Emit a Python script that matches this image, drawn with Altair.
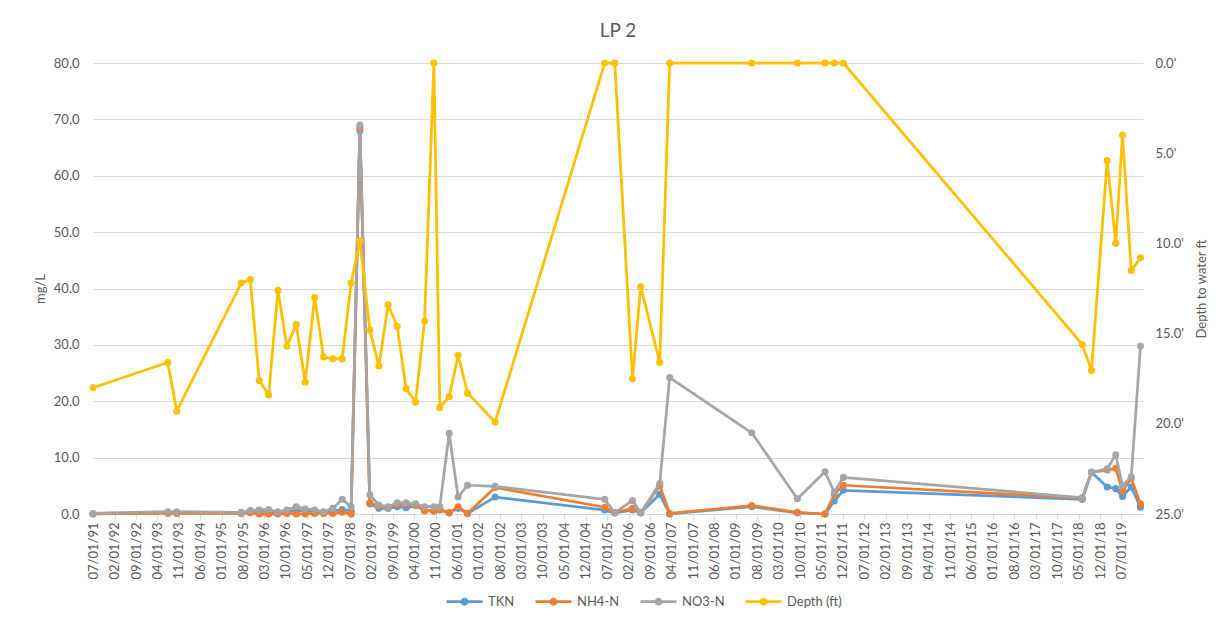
import altair as alt
import pandas as pd

# ---------------- data ----------------
dates = ["1991-07-01", "1993-07-13", "1993-10-11", "1995-07-14", "1995-10-12", "1996-01-09",
         "1996-04-12", "1996-07-13", "1996-10-10", "1997-01-11", "1997-04-10", "1997-07-13",
         "1997-10-10", "1998-01-11", "1998-04-13", "1998-07-11", "1998-10-06", "1999-01-13",
         "1999-04-13", "1999-07-14", "1999-10-12", "2000-01-09", "2000-04-12", "2000-07-10",
         "2000-10-11", "2000-12-09", "2001-03-12", "2001-06-09", "2001-09-11", "2002-06-12",
         "2005-06-06", "2005-09-14", "2006-03-09", "2006-05-30", "2006-12-05", "2007-03-14",
         "2009-06-07", "2010-09-04", "2011-06-06", "2011-09-06", "2011-12-05", "2018-06-07",
         "2018-09-07", "2019-02-10", "2019-05-06", "2019-07-12", "2019-10-07", "2020-01-07"]

tkn = [0.1, 0.3, 0.3, 0.2, 0.4, 0.4, 0.5, 0.3, 0.4, 0.6, 0.5, 0.4, 0.3, 0.5, 0.8, 0.5,
       68.0, 1.8, 1.0, 1.0, 1.3, 1.1, 1.5, 0.6, 0.6, 0.7, 0.2, 1.0, 0.1, 3.0,
       0.7, 0.2, 0.7, 0.2, 3.5, 0.0, 1.3, 0.2, 0.0, 2.3, 4.2,
       2.6, 7.4, 4.8, 4.5, 3.1, 4.8, 1.2]

nh4 = [0.0, 0.1, 0.1, 0.1, 0.2, 0.0, 0.0, 0.0, 0.1, 0.0, 0.0, 0.1, 0.1, 0.1, 0.3, 0.0,
       68.5, 2.0, 1.4, 1.2, 1.7, 1.7, 1.6, 0.6, 0.5, 0.8, 0.2, 1.3, 0.1, 4.7,
       1.2, 0.2, 1.0, 0.2, 5.0, 0.1, 1.5, 0.3, 0.0, 3.5, 5.1,
       2.8, 7.4, 7.8, 8.1, 4.1, 6.3, 1.8]

no3 = [0.1, 0.4, 0.4, 0.3, 0.6, 0.7, 0.8, 0.4, 0.7, 1.3, 0.9, 0.7, 0.4, 1.0, 2.6, 1.3,
       69.0, 3.4, 1.6, 1.3, 2.0, 2.0, 1.8, 1.3, 1.3, 1.3, 14.3, 3.0, 5.1, 4.9,
       2.6, 0.2, 2.4, 0.2, 5.4, 24.2, 14.4, 2.7, 7.5, 3.85, 6.5,
       2.9, 7.4, 8.0, 10.5, 5.0, 6.6, 29.8]

depth_ft = [18.0, 16.6, 19.3, 12.2, 12.0, 17.6, 18.4, 12.6, 15.7, 14.5, 17.7, 13.0,
            16.3, 16.4, 16.4, 12.2, 9.85, 14.8, 16.8, 13.4, 14.6, 18.05, 18.8, 14.3,
            0.0, 19.1, 18.5, 16.2, 18.3, 19.9, 0.0, 0.0, 17.5, 12.4, 16.6, 0.0,
            0.0, 0.0, 0.0, 0.0, 0.0, 15.6, 17.05, 5.4, 10.0, 4.0, 11.5, 10.8]

series_names = ["TKN", "NH4-N", "NO3-N", "Depth (ft)"]
series_colors = ["#5B9BD5", "#ED7D31", "#A5A5A5", "#FFC000"]

tick_dates = ["1991-07-01", "1992-02-01", "1992-09-01", "1993-04-01", "1993-11-01",
              "1994-06-01", "1995-01-01", "1995-08-01", "1996-03-01", "1996-10-01",
              "1997-05-01", "1997-12-01", "1998-07-01", "1999-02-01", "1999-09-01",
              "2000-04-01", "2000-11-01", "2001-06-01", "2002-01-01", "2002-08-01",
              "2003-03-01", "2003-10-01", "2004-05-01", "2004-12-01", "2005-07-01",
              "2006-02-01", "2006-09-01", "2007-04-01", "2007-11-01", "2008-06-01",
              "2009-01-01", "2009-08-01", "2010-03-01", "2010-10-01", "2011-05-01",
              "2011-12-01", "2012-07-01", "2013-02-01", "2013-09-01", "2014-04-01",
              "2014-11-01", "2015-06-01", "2016-01-01", "2016-08-01", "2017-03-01",
              "2017-10-01", "2018-05-01", "2018-12-01", "2019-07-01"]
x_domain = ["1991-07-01", "2020-02-01"]
left_ticks = [0, 10, 20, 30, 40, 50, 60, 70, 80]
right_ticks = [0, 5, 10, 15, 20, 25]

# ---------------- build tables ----------------
n = len(dates)
dt = pd.to_datetime(dates)
chem = pd.DataFrame({
    "date": list(dt) * 3,
    "series": ["TKN"] * n + ["NH4-N"] * n + ["NO3-N"] * n,
    "value": tkn + nh4 + no3,
})
dep = pd.DataFrame({"date": dt, "series": ["Depth (ft)"] * n, "depth": depth_ft})

FONT = "Lato"
TXT = "#595959"
GRID = "#D9D9D9"


def to_dt(s):
    y, m, d = (int(v) for v in s.split("-"))
    return alt.DateTime(year=y, month=m, date=d)


x_enc = alt.X(
    "date:T",
    scale=alt.Scale(domain=[to_dt(s) for s in x_domain]),
    axis=alt.Axis(values=[to_dt(s) for s in tick_dates], format="%m/%d/%y",
                  labelAngle=270, title=None, grid=False, domain=True,
                  domainColor=GRID, ticks=True, tickColor=GRID, tickSize=5,
                  labelPadding=3, labelOverlap=False, labelFlush=False),
)

y_left = alt.Y(
    "value:Q",
    scale=alt.Scale(domain=[0, 80], nice=False),
    axis=alt.Axis(values=left_ticks, format=".1f", title="mg/L", grid=True,
                  gridColor=GRID, domain=False, ticks=False, labelPadding=14,
                  titlePadding=6),
)

y_right = alt.Y(
    "depth:Q",
    scale=alt.Scale(domain=[0, 25], reverse=True, nice=False),
    axis=alt.Axis(orient="right", values=right_ticks,
                  labelExpr="format(datum.value, '.1f') + \"'\"",
                  title="Depth to water ft", titleAngle=270, titleBaseline="top",
                  grid=False, domain=False, ticks=False, labelPadding=12,
                  titlePadding=12),
)

color_enc = alt.Color(
    "series:N",
    scale=alt.Scale(domain=series_names, range=series_colors),
    legend=alt.Legend(title=None, orient="none", direction="horizontal",
                      legendX=352, legendY=519,
                      symbolType="M-1,0L1,0M0.14,0A0.14,0.14,0,1,1,-0.14,0A0.14,0.14,0,1,1,0.14,0Z",
                      symbolSize=1296, symbolStrokeWidth=2.75,
                      labelOffset=4, columnPadding=15),
)

layers = []
for name, col in zip(series_names[:3], series_colors[:3]):
    base = alt.Chart(chem).transform_filter(alt.datum.series == name)
    layers.append(base.mark_line(strokeWidth=2.75, strokeJoin="round", strokeCap="round")
                  .encode(x=x_enc, y=y_left, color=color_enc))
    layers.append(base.mark_point(filled=True, size=50, opacity=1, color=col)
                  .encode(x=x_enc, y=y_left))
left = alt.layer(*layers)

dep_base = alt.Chart(dep)
right = alt.layer(
    dep_base.mark_line(strokeWidth=2.75, strokeJoin="round", strokeCap="round")
    .encode(x=x_enc, y=y_right, color=color_enc),
    dep_base.mark_point(filled=True, size=50, opacity=1, color=series_colors[3])
    .encode(x=x_enc, y=y_right),
)

chart = (
    alt.layer(left, right)
    .resolve_scale(y="independent")
    .properties(
        width=1050, height=451,
        title=alt.TitleParams("LP 2", anchor="middle", frame="group", offset=16,
                              fontSize=19, font=FONT, color=TXT, fontWeight="normal"),
        autosize=alt.AutoSizeParams(type="none"),
        padding={"left": 85, "top": 55, "right": 72, "bottom": 98},
    )
    .configure_view(stroke=None)
    .configure_axis(labelFont=FONT, labelFontSize=13, labelColor=TXT,
                    titleFont=FONT, titleFontSize=13, titleColor=TXT,
                    titleFontWeight="normal")
    .configure_legend(labelFont=FONT, labelFontSize=13, labelColor=TXT)
)

chart.save("out.html", embed_options={"renderer": "svg", "actions": False})
